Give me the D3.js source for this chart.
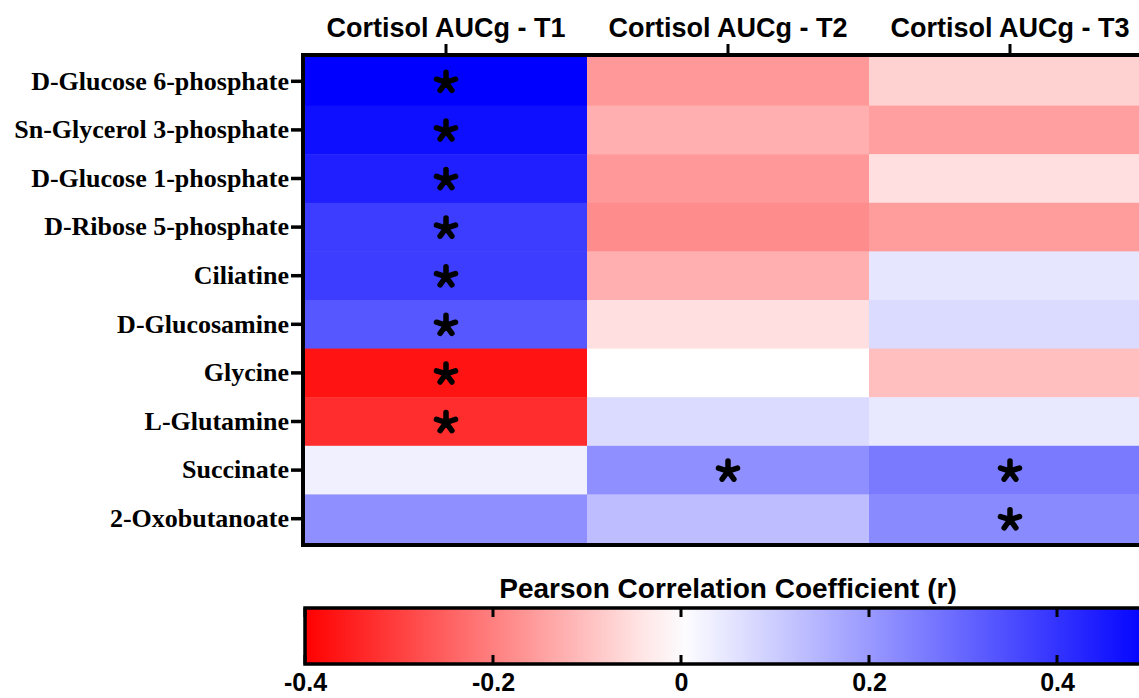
<!DOCTYPE html>
<html>
<head>
<meta charset="utf-8">
<script src="https://cdn.jsdelivr.net/npm/d3@7"></script>
<style>
    body { margin: 0; background: #fff; }
    .col-label { font-family: "Liberation Sans", Arial, sans-serif; font-weight: bold; }
    .row-label { font-family: "Liberation Serif", "Times New Roman", serif; font-weight: bold; }
</style>
</head>
<body>
<div id="chart"></div>
<script>

// metabolites (rows) and time points (columns)
let metabolites = ["D-Glucose 6-phosphate", "Sn-Glycerol 3-phosphate", "D-Glucose 1-phosphate",
    "D-Ribose 5-phosphate", "Ciliatine", "D-Glucosamine", "Glycine", "L-Glutamine",
    "Succinate", "2-Oxobutanoate"];
let timepoints = ["Cortisol AUCg - T1", "Cortisol AUCg - T2", "Cortisol AUCg - T3"];

// pearson r, one array per time point
let rT1 = [0.50, 0.47, 0.44, 0.38, 0.38, 0.33, -0.37, -0.33, 0.03, 0.22];
let rT2 = [-0.16, -0.125, -0.16, -0.18, -0.125, -0.05, 0.0, 0.07, 0.22, 0.13];
let rT3 = [-0.07, -0.15, -0.05, -0.155, 0.05, 0.07, -0.10, 0.045, 0.26, 0.23];

// significance flags
let sigT1 = [1, 1, 1, 1, 1, 1, 1, 1, 0, 0];
let sigT2 = [0, 0, 0, 0, 0, 0, 0, 0, 1, 0];
let sigT3 = [0, 0, 0, 0, 0, 0, 0, 0, 1, 1];

// legend ticks
let legendTicks = [-0.4, -0.2, 0, 0.2, 0.4];
let legendDomain = [-0.4, 0.5];

let cells = [];
[rT1, rT2, rT3].forEach((arr, j) => {
    let sig = [sigT1, sigT2, sigT3][j];
    arr.forEach((v, i) => cells.push({row: metabolites[i], col: timepoints[j], r: v, sig: sig[i]}));
});

let margin = {top: 57, left: 305};
let width = 846, height = 486;

let svg = d3.select("#chart").append("svg")
    .attr("width", 1139)
    .attr("height", 698);

let g = svg.append("g")
    .attr("transform", "translate(" + margin.left + "," + margin.top + ")");

let x = d3.scaleBand().domain(timepoints).range([0, width]);
let y = d3.scaleBand().domain(metabolites).range([0, height]);

let color = d3.scaleLinear()
    .domain([-0.4, 0, 0.5])
    .range(["#ff0000", "#ffffff", "#0000ff"])
    .clamp(true);

// cells
g.selectAll("rect.cell")
    .data(cells)
    .enter().append("rect")
    .attr("class", "cell")
    .attr("x", d => x(d.col))
    .attr("y", d => y(d.row))
    .attr("width", x.bandwidth() + 0.5)
    .attr("height", y.bandwidth() + 0.5)
    .attr("fill", d => color(d.r));

// five-armed asterisk symbol for significant cells
let starType = {
    draw(context, size) {
        let r = Math.sqrt(size);
        for (let k = 0; k < 5; k++) {
            let a = -Math.PI / 2 + k * 2 * Math.PI / 5;
            context.moveTo(0, 0);
            context.lineTo(r * Math.cos(a), r * Math.sin(a));
        }
    }
};

g.selectAll("path.star")
    .data(cells.filter(d => d.sig))
    .enter().append("path")
    .attr("class", "star")
    .attr("transform", d => "translate(" + (x(d.col) + x.bandwidth() / 2) + "," + (y(d.row) + y.bandwidth() / 2 + 1) + ")")
    .attr("d", d3.symbol().type(starType).size(100))
    .attr("fill", "none")
    .attr("stroke", "#000")
    .attr("stroke-width", 5.5)
    .attr("stroke-linecap", "round");

// frame
g.append("rect")
    .attr("x", -2).attr("y", -2)
    .attr("width", width + 4).attr("height", height + 4)
    .attr("fill", "none")
    .attr("stroke", "#000")
    .attr("stroke-width", 4);

// row axis
let yAxis = g.append("g")
    .attr("transform", "translate(-4,0)")
    .call(d3.axisLeft(y).tickSize(10).tickPadding(2));
yAxis.select(".domain").remove();
yAxis.selectAll(".tick line").attr("stroke", "#000").attr("stroke-width", 3.5);
yAxis.selectAll(".tick text")
    .attr("class", "row-label")
    .attr("fill", "#000")
    .style("font-size", "26px");

// column axis
let xAxis = g.append("g")
    .attr("transform", "translate(0,-4)")
    .call(d3.axisTop(x).tickSize(9).tickPadding(7));
xAxis.select(".domain").remove();
xAxis.selectAll(".tick line").attr("stroke", "#000").attr("stroke-width", 3);
xAxis.selectAll(".tick text")
    .attr("class", "col-label")
    .attr("fill", "#000")
    .style("font-size", "27px");

// colour legend
let legendY = 608, legendH = 56;
let lx = d3.scaleLinear().domain(legendDomain).range([0, width]);

let defs = svg.append("defs");
let grad = defs.append("linearGradient").attr("id", "legend-grad");
d3.range(0, 1.0001, 0.05).forEach(t => {
    let v = legendDomain[0] + t * (legendDomain[1] - legendDomain[0]);
    grad.append("stop").attr("offset", (t * 100) + "%").attr("stop-color", color(v));
});

let legend = svg.append("g")
    .attr("transform", "translate(" + margin.left + "," + legendY + ")");

legend.append("rect")
    .attr("width", width).attr("height", legendH)
    .attr("fill", "url(#legend-grad)")
    .attr("stroke", "#000")
    .attr("stroke-width", 3.5);

// inner ticks on top and bottom edges
legend.selectAll("line.tt")
    .data(legendTicks)
    .enter().append("line")
    .attr("x1", d => lx(d)).attr("x2", d => lx(d))
    .attr("y1", 0).attr("y2", 9)
    .attr("stroke", "#000").attr("stroke-width", 3);
legend.selectAll("line.tb")
    .data(legendTicks)
    .enter().append("line")
    .attr("x1", d => lx(d)).attr("x2", d => lx(d))
    .attr("y1", legendH - 9).attr("y2", legendH)
    .attr("stroke", "#000").attr("stroke-width", 3);

let lAxis = legend.append("g")
    .attr("transform", "translate(0," + legendH + ")")
    .call(d3.axisBottom(lx).tickValues(legendTicks).tickSize(0).tickPadding(9)
        .tickFormat(d => d === 0 ? "0" : d.toFixed(1)));
lAxis.select(".domain").remove();
lAxis.selectAll(".tick text")
    .attr("class", "col-label")
    .attr("fill", "#000")
    .style("font-size", "25px");

legend.append("text")
    .attr("class", "col-label")
    .attr("x", width / 2)
    .attr("y", -10)
    .attr("text-anchor", "middle")
    .style("font-size", "28px")
    .text("Pearson Correlation Coefficient (r)");

</script>
</body>
</html>
